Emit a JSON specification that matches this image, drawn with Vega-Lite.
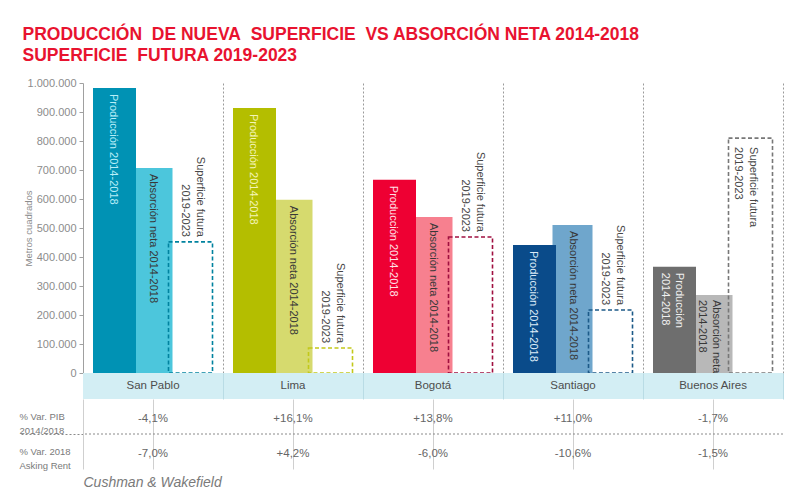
{
  "$schema": "https://vega.github.io/schema/vega-lite/v6.json",
  "background": "white",
  "padding": {"left": 18, "right": 5, "top": 25, "bottom": 5},
  "bounds": "flush",
  "spacing": 0,
  "config": {
    "font": "Liberation Sans",
    "locale": {"number": {"decimal": ",", "thousands": ".", "grouping": [3], "currency": ["", " €"], "minus": "-"}},
    "view": {"stroke": null}
  },
  "title": {
    "text": ["PRODUCCIÓN\u00a0 DE NUEVA\u00a0 SUPERFICIE\u00a0 VS ABSORCIÓN NETA 2014-2018", "SUPERFICIE\u00a0 FUTURA 2019-2023"],
    "anchor": "start",
    "frame": "bounds",
    "dx": 4,
    "color": "#E8132F",
    "fontSize": 17.5,
    "fontWeight": "bold",
    "lineHeight": 21,
    "offset": 13
  },
  "datasets": {
    "barras": [
      {"ciudad": "San Pablo", "serie": "Producción 2014-2018", "valor": 983000, "etiqueta": "Producción 2014-2018"},
      {"ciudad": "San Pablo", "serie": "Absorción neta 2014-2018", "valor": 707000, "etiqueta": "Absorción neta 2014-2018"},
      {"ciudad": "San Pablo", "serie": "Superficie futura 2019-2023", "valor": 452000, "etiqueta": "Superficie futura\n2019-2023"},
      {"ciudad": "Lima", "serie": "Producción 2014-2018", "valor": 914000, "etiqueta": "Producción 2014-2018"},
      {"ciudad": "Lima", "serie": "Absorción neta 2014-2018", "valor": 597000, "etiqueta": "Absorción neta 2014-2018"},
      {"ciudad": "Lima", "serie": "Superficie futura 2019-2023", "valor": 86000, "etiqueta": "Superficie futura\n2019-2023"},
      {"ciudad": "Bogotá", "serie": "Producción 2014-2018", "valor": 666000, "etiqueta": "Producción 2014-2018"},
      {"ciudad": "Bogotá", "serie": "Absorción neta 2014-2018", "valor": 538000, "etiqueta": "Absorción neta 2014-2018"},
      {"ciudad": "Bogotá", "serie": "Superficie futura 2019-2023", "valor": 469000, "etiqueta": "Superficie futura\n2019-2023"},
      {"ciudad": "Santiago", "serie": "Producción 2014-2018", "valor": 441000, "etiqueta": "Producción 2014-2018"},
      {"ciudad": "Santiago", "serie": "Absorción neta 2014-2018", "valor": 510000, "etiqueta": "Absorción neta 2014-2018"},
      {"ciudad": "Santiago", "serie": "Superficie futura 2019-2023", "valor": 217000, "etiqueta": "Superficie futura\n2019-2023"},
      {"ciudad": "Buenos Aires", "serie": "Producción 2014-2018", "valor": 366000, "etiqueta": "Producción\n2014-2018"},
      {"ciudad": "Buenos Aires", "serie": "Absorción neta 2014-2018", "valor": 269000, "etiqueta": "Absorción neta\n2014-2018"},
      {"ciudad": "Buenos Aires", "serie": "Superficie futura 2019-2023", "valor": 810000, "etiqueta": "Superficie futura\n2019-2023"}
    ],
    "tabla": [
      {"ciudad": "San Pablo", "indicador": "% Var. PIB|2014/2018", "valor": -0.041},
      {"ciudad": "Lima", "indicador": "% Var. PIB|2014/2018", "valor": 0.161},
      {"ciudad": "Bogotá", "indicador": "% Var. PIB|2014/2018", "valor": 0.138},
      {"ciudad": "Santiago", "indicador": "% Var. PIB|2014/2018", "valor": 0.110},
      {"ciudad": "Buenos Aires", "indicador": "% Var. PIB|2014/2018", "valor": -0.017},
      {"ciudad": "San Pablo", "indicador": "% Var. 2018|Asking Rent", "valor": -0.070},
      {"ciudad": "Lima", "indicador": "% Var. 2018|Asking Rent", "valor": 0.042},
      {"ciudad": "Bogotá", "indicador": "% Var. 2018|Asking Rent", "valor": -0.060},
      {"ciudad": "Santiago", "indicador": "% Var. 2018|Asking Rent", "valor": -0.106},
      {"ciudad": "Buenos Aires", "indicador": "% Var. 2018|Asking Rent", "valor": -0.015}
    ]
  },
  "vconcat": [
    {
      "width": 700,
      "height": 290,
      "data": {"name": "barras"},
      "encoding": {
        "x": {
          "field": "ciudad", "type": "nominal",
          "sort": ["San Pablo", "Lima", "Bogotá", "Santiago", "Buenos Aires"],
          "scale": {"paddingInner": 0, "paddingOuter": 0},
          "axis": {"title": null, "labels": false, "ticks": false, "domain": false, "grid": true, "bandPosition": 1, "gridColor": "#9a9a9a", "gridDash": [2, 2], "gridWidth": 1}
        },
        "xOffset": {
          "field": "serie", "type": "nominal",
          "scale": {"domain": ["Producción 2014-2018", "Absorción neta 2014-2018", "Superficie futura 2019-2023"], "range": [12.5, 126.5], "paddingInner": 0, "paddingOuter": 0}
        },
        "y": {
          "field": "valor", "type": "quantitative",
          "scale": {"domain": [0, 1000000], "nice": false},
          "axis": {
            "title": "Metros cuadrados", "format": ",.0f",
            "values": [0, 100000, 200000, 300000, 400000, 500000, 600000, 700000, 800000, 900000, 1000000],
            "grid": false, "labelColor": "#8c8c8c", "labelFontSize": 11, "labelPadding": 3,
            "tickColor": "#a0a0a0", "tickSize": 4, "domainColor": "#a0a0a0",
            "titleColor": "#8c8c8c", "titleFontSize": 9.5, "titleFontWeight": "normal", "titlePadding": -6
          }
        }
      },
      "layer": [
        {
          "transform": [{"filter": "datum.serie === 'Absorción neta 2014-2018'"}],
          "mark": {"type": "bar", "width": 40},
          "encoding": {
            "color": {"field": "ciudad", "type": "nominal", "legend": null,
              "scale": {"domain": ["San Pablo", "Lima", "Bogotá", "Santiago", "Buenos Aires"], "range": ["#4CC6DC", "#D6DA6E", "#F7808F", "#6FA6CC", "#B8B8B8"]}}
          }
        },
        {
          "transform": [{"filter": "datum.serie === 'Producción 2014-2018'"}],
          "mark": {"type": "bar", "width": 43},
          "encoding": {
            "color": {"field": "ciudad", "type": "nominal", "legend": null,
              "scale": {"domain": ["San Pablo", "Lima", "Bogotá", "Santiago", "Buenos Aires"], "range": ["#0092B4", "#B4BE00", "#EE0033", "#0A4B8A", "#6E6E6E"]}}
          }
        },
        {
          "transform": [{"filter": "datum.serie === 'Superficie futura 2019-2023'"}],
          "mark": {"type": "bar", "width": 44, "fillOpacity": 0, "strokeWidth": 1.6, "strokeDash": [4, 2.5]},
          "encoding": {
            "stroke": {"field": "ciudad", "type": "nominal", "legend": null,
              "scale": {"domain": ["San Pablo", "Lima", "Bogotá", "Santiago", "Buenos Aires"], "range": ["#00829F", "#C2C81A", "#A01040", "#1D5A88", "#777777"]}}
          }
        },
        {
          "transform": [{"filter": "datum.serie === 'Producción 2014-2018' && datum.ciudad !== 'Buenos Aires'"}],
          "mark": {"type": "text", "angle": 90, "align": "left", "baseline": "middle", "dx": 6, "dy": 1.5, "fontSize": 11},
          "encoding": {
            "text": {"field": "etiqueta"},
            "color": {"field": "ciudad", "type": "nominal", "legend": null,
              "scale": {"domain": ["San Pablo", "Lima", "Bogotá", "Santiago"], "range": ["#B8EEF8", "#F4F4B8", "#FFE0E6", "#DDEBF8"]}}
          }
        },
        {
          "transform": [{"filter": "datum.serie === 'Producción 2014-2018' && datum.ciudad === 'Buenos Aires'"}],
          "mark": {"type": "text", "angle": 90, "align": "left", "baseline": "middle", "dx": 6, "dy": -4.5, "fontSize": 11, "lineBreak": "\n", "lineHeight": 14, "color": "#F0F0F0"},
          "encoding": {"text": {"field": "etiqueta"}}
        },
        {
          "transform": [{"filter": "datum.serie === 'Absorción neta 2014-2018' && datum.ciudad !== 'Buenos Aires'"}],
          "mark": {"type": "text", "angle": 90, "align": "left", "baseline": "middle", "dx": 6, "fontSize": 11, "color": "#383838"},
          "encoding": {"text": {"field": "etiqueta"}}
        },
        {
          "transform": [{"filter": "datum.serie === 'Absorción neta 2014-2018' && datum.ciudad === 'Buenos Aires'"}],
          "mark": {"type": "text", "angle": 90, "align": "left", "baseline": "middle", "dx": 5, "dy": -3.5, "fontSize": 11, "lineBreak": "\n", "lineHeight": 14, "color": "#383838"},
          "encoding": {"text": {"field": "etiqueta"}}
        },
        {
          "transform": [{"filter": "datum.serie === 'Superficie futura 2019-2023' && datum.ciudad !== 'Buenos Aires'"}],
          "mark": {"type": "text", "angle": 90, "align": "right", "baseline": "middle", "dx": -5, "dy": -9.5, "fontSize": 11, "lineBreak": "\n", "lineHeight": 15, "color": "#474747"},
          "encoding": {"text": {"field": "etiqueta"}}
        },
        {
          "transform": [{"filter": "datum.serie === 'Superficie futura 2019-2023' && datum.ciudad === 'Buenos Aires'"}],
          "mark": {"type": "text", "angle": 90, "align": "left", "baseline": "middle", "dx": 9, "dy": -2.5, "fontSize": 11, "lineBreak": "\n", "lineHeight": 15, "color": "#474747"},
          "encoding": {"text": {"field": "etiqueta"}}
        }
      ],
      "resolve": {"scale": {"color": "independent", "stroke": "independent"}}
    },
    {
      "width": 700,
      "height": 26,
      "data": {"name": "barras"},
      "transform": [{"filter": "datum.serie === 'Producción 2014-2018'"}],
      "encoding": {
        "x": {
          "field": "ciudad", "type": "nominal",
          "sort": ["San Pablo", "Lima", "Bogotá", "Santiago", "Buenos Aires"],
          "scale": {"paddingInner": 0, "paddingOuter": 0},
          "axis": {"title": null, "labels": false, "ticks": false, "domain": false, "grid": true, "bandPosition": 1, "gridColor": "#b9dce5", "gridWidth": 1, "zindex": 1}
        }
      },
      "layer": [
        {"mark": {"type": "rect", "color": "#D3EEF4"}},
        {"mark": {"type": "text", "color": "#4d4d4d", "fontSize": 11.5}, "encoding": {"text": {"field": "ciudad"}}}
      ]
    },
    {
      "width": 700,
      "height": 70,
      "data": {"name": "tabla"},
      "layer": [
        {
          "transform": [{"filter": "datum.indicador === '% Var. 2018|Asking Rent' && datum.ciudad === 'San Pablo'"}],
          "mark": {"type": "rule", "color": "#8a8a8a", "strokeDash": [2, 2], "strokeWidth": 1},
          "encoding": {
            "y": {"field": "indicador", "type": "nominal", "bandPosition": 0,
              "sort": ["% Var. PIB|2014/2018", "% Var. 2018|Asking Rent"],
              "scale": {"paddingInner": 0, "paddingOuter": 0}}
          }
        },
        {
          "mark": {"type": "text", "color": "#666666", "fontSize": 11.5, "dy": 2},
          "encoding": {
            "x": {
              "field": "ciudad", "type": "nominal",
              "sort": ["San Pablo", "Lima", "Bogotá", "Santiago", "Buenos Aires"],
              "scale": {"paddingInner": 0, "paddingOuter": 0},
              "axis": {
                "title": "Cushman & Wakefield", "titleFontStyle": "italic", "titleFontWeight": "normal", "titleFontSize": 14,
                "titleColor": "#7a7a7a", "titleAnchor": "start", "titleAlign": "left", "titlePadding": 6,
                "labels": false, "ticks": false, "domain": false, "grid": true, "bandPosition": 1, "gridColor": "#cfcfcf", "gridWidth": 1
              }
            },
            "y": {
              "field": "indicador", "type": "nominal",
              "sort": ["% Var. PIB|2014/2018", "% Var. 2018|Asking Rent"],
              "scale": {"paddingInner": 0, "paddingOuter": 0},
              "axis": {
                "title": null, "labelExpr": "split(datum.value, '|')", "labelAlign": "left", "labelBaseline": "middle",
                "labelPadding": 0, "labelColor": "#7a7a7a", "labelFontSize": 9.5, "labelLineHeight": 14,
                "tickOffset": -17.5, "labelOffset": 17.5,
                "ticks": true, "tickSize": 64, "tickDash": [2, 2], "tickWidth": 1,
                "tickColor": {"condition": {"test": "datum.value === '% Var. 2018|Asking Rent'", "value": "#8a8a8a"}, "value": "transparent"},
                "grid": false,
                "domain": true, "domainColor": "#cfcfcf"
              }
            },
            "text": {"field": "valor", "type": "quantitative", "format": "+.1%"}
          }
        }
      ]
    }
  ]
}
